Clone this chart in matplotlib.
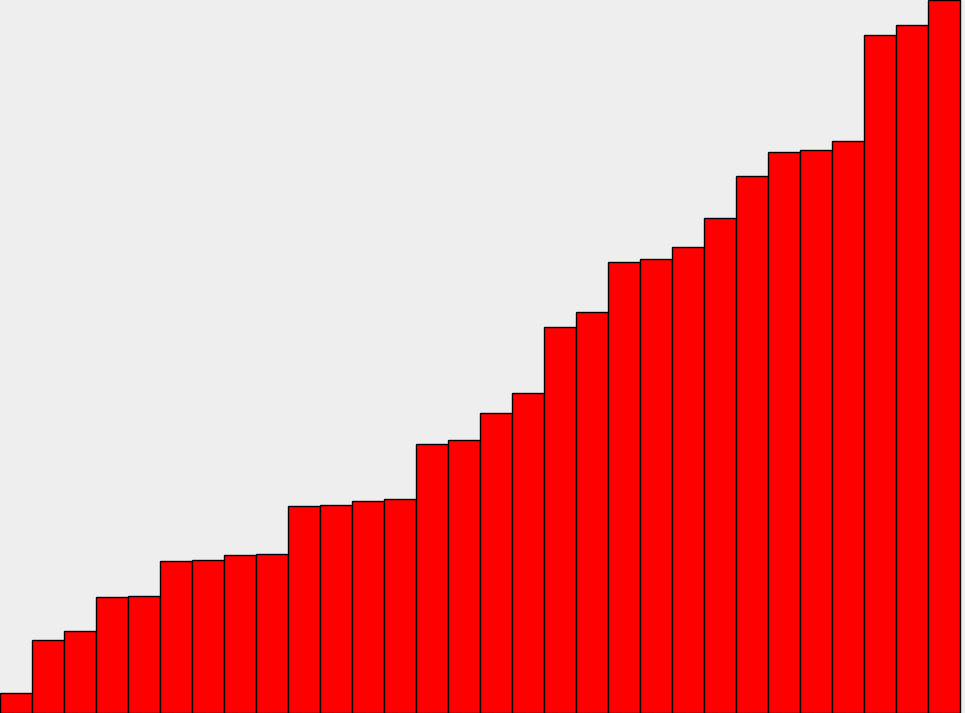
import numpy as np
import matplotlib
matplotlib.use("Agg")
import matplotlib.pyplot as plt

values = [20, 73, 82, 116, 117, 152, 153, 158, 159, 207,
          208, 212, 214, 269, 273, 300, 320, 386, 401, 451,
          454, 466, 495, 537, 561, 563, 572, 678, 688, 713]

fig = plt.figure(figsize=(9.65, 7.13), dpi=100, facecolor="#eeeeee")
ax = fig.add_axes([0, 0, 1, 1])
ax.set_facecolor("#eeeeee")

x = np.arange(len(values))
ax.bar(x, values, width=1.0, align="edge", color="#ff0000",
       edgecolor="black", linewidth=1.0)

ax.set_xlim(0, 965 / 32)
ax.set_ylim(0, 713)
ax.axis("off")

fig.savefig("out.png", dpi=100, facecolor=fig.get_facecolor())
